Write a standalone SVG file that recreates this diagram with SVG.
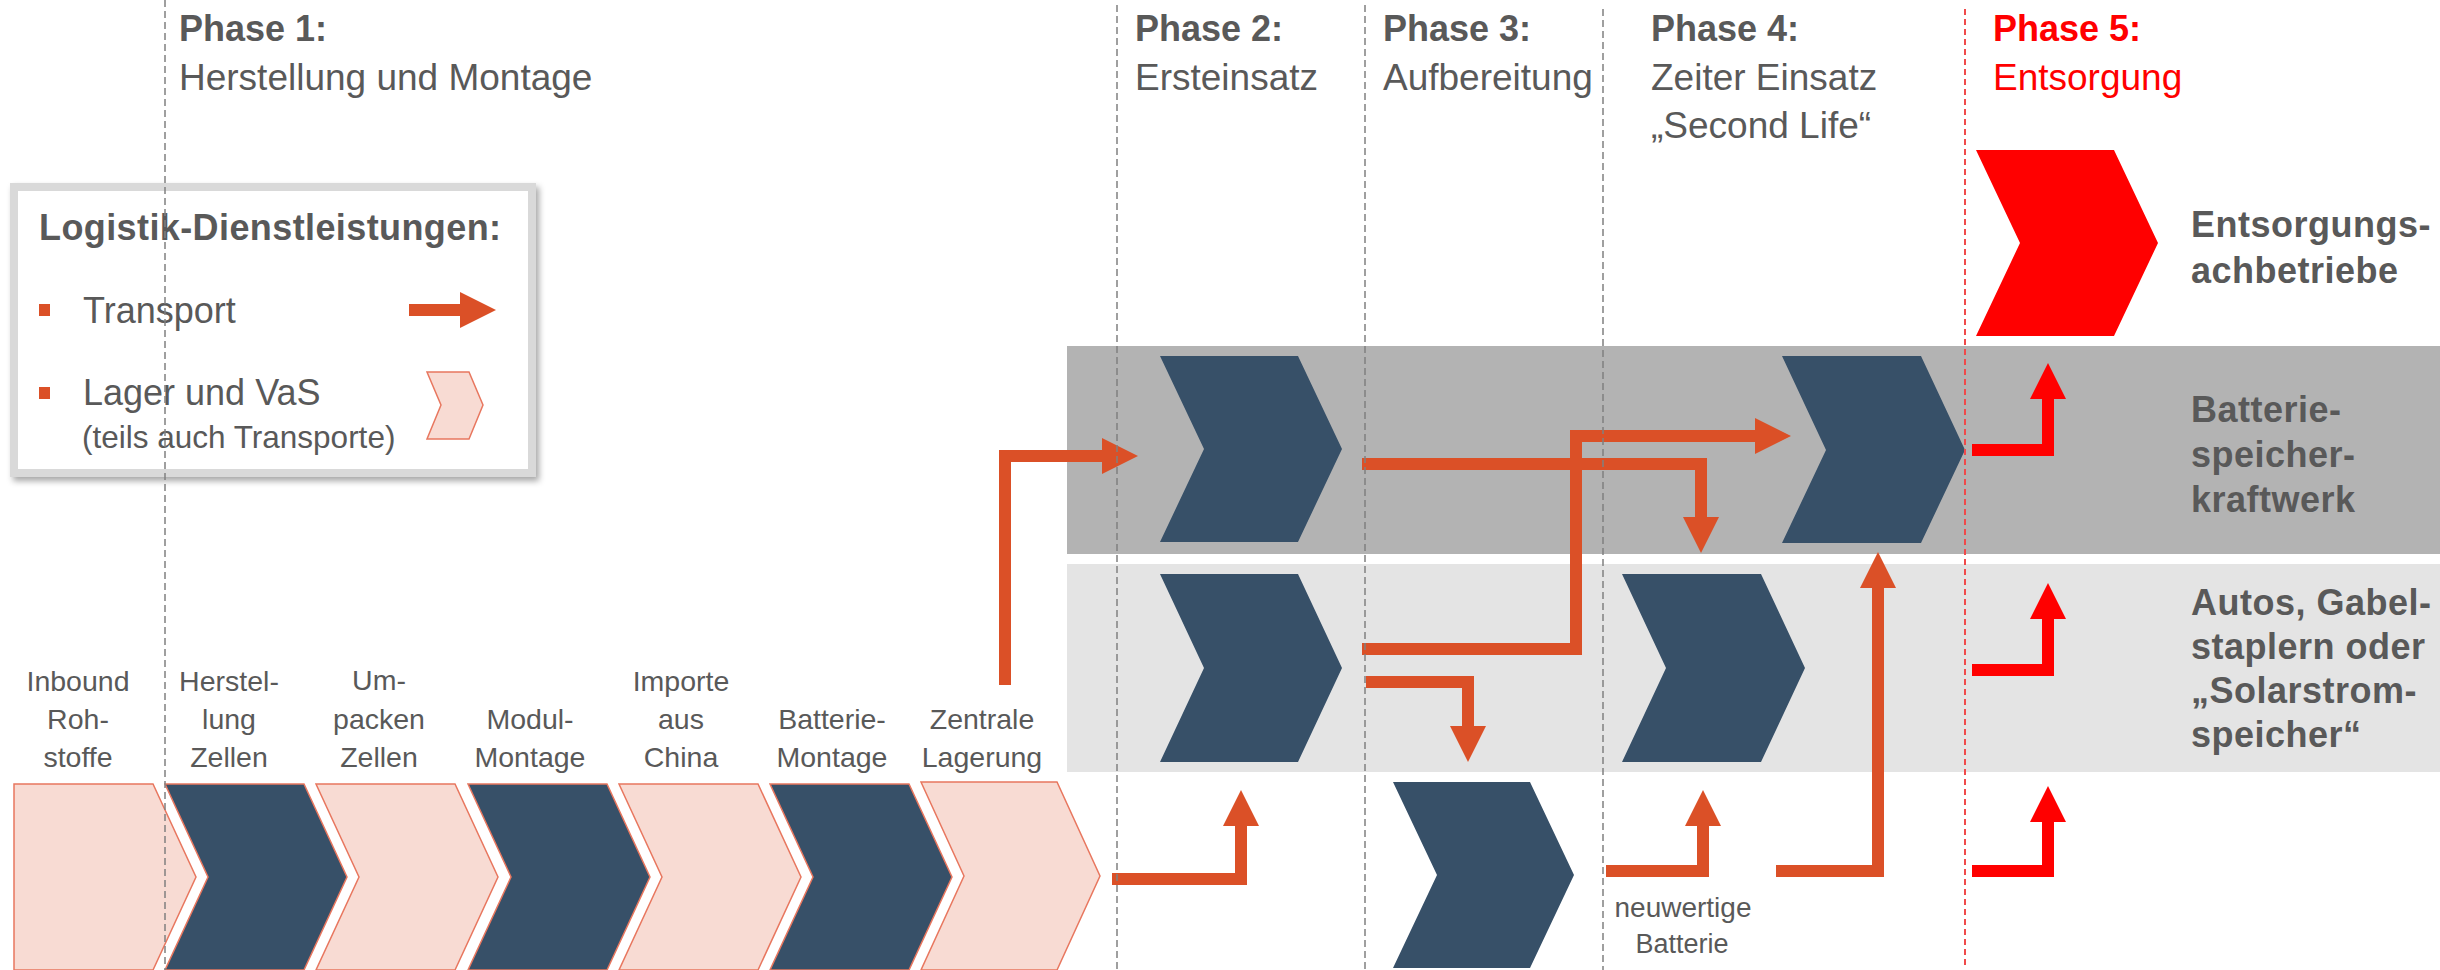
<svg xmlns="http://www.w3.org/2000/svg" width="2440" height="970" viewBox="0 0 2440 970">
<defs>
<style>
.t{font-family:"Liberation Sans",Arial,sans-serif;fill:#595959}
.b{font-weight:bold}
.h{font-size:36px}
.hr{font-size:37px}
.lbl{font-size:28.5px;text-anchor:middle}
.side{font-size:36px;font-weight:bold;letter-spacing:0.5px}
.red{fill:#ff0000}
.pink{fill:#f8dbd3;stroke:#e8775f;stroke-width:1.5}
.dark{fill:#375068}
.dk2{fill:#375068;stroke:#e8775f;stroke-width:1.5}
.ph{stroke:#808080;stroke-width:1.5;stroke-dasharray:7,4;fill:none}
.phr{stroke:#f04a4a;stroke-width:2;stroke-dasharray:6,4;fill:none}
.arr{fill:none;stroke:#db5027;stroke-width:12;stroke-linejoin:miter;marker-end:url(#ho)}
.arrR{fill:none;stroke:#ff0000;stroke-width:12;stroke-linejoin:miter;marker-end:url(#hr)}
</style>
<marker id="ho" markerUnits="userSpaceOnUse" markerWidth="36" markerHeight="36" viewBox="0 0 36 36" refX="0" refY="18" orient="auto"><path d="M0,0 L36,18 L0,36 Z" fill="#db5027"/></marker>
<marker id="hr" markerUnits="userSpaceOnUse" markerWidth="36" markerHeight="36" viewBox="0 0 36 36" refX="0" refY="18" orient="auto"><path d="M0,0 L36,18 L0,36 Z" fill="#ff0000"/></marker>
<filter id="sh" x="-5%" y="-5%" width="115%" height="115%"><feDropShadow dx="3" dy="4" stdDeviation="3" flood-color="#000" flood-opacity="0.35"/></filter>
</defs>
<rect width="2440" height="970" fill="#fff"/>

<g id="bands">
<rect x="1067" y="346" width="1373" height="208" fill="#b3b3b3"/>
<rect x="1067" y="564" width="1373" height="208" fill="#e4e4e4"/>
</g>

<g id="headers">
<text class="t b h" x="179" y="41">Phase 1:</text>
<text class="t hr" x="179" y="90">Herstellung und Montage</text>
<text class="t b h" x="1135" y="41">Phase 2:</text>
<text class="t hr" x="1135" y="90">Ersteinsatz</text>
<text class="t b h" x="1383" y="41">Phase 3:</text>
<text class="t hr" x="1383" y="90">Aufbereitung</text>
<text class="t b h" x="1651" y="41">Phase 4:</text>
<text class="t hr" x="1651" y="90">Zeiter Einsatz</text>
<text class="t hr" x="1651" y="138">„Second Life“</text>
<text class="t b h red" x="1993" y="41">Phase 5:</text>
<text class="t hr red" x="1993" y="90">Entsorgung</text>
</g>

<g id="legend">
<rect x="14" y="187" width="518" height="286" fill="#fff" stroke="#d9d9d9" stroke-width="8" filter="url(#sh)"/>
<text class="t b h" x="39" y="240" style="letter-spacing:0.4px">Logistik-Dienstleistungen:</text>
<rect x="39" y="304" width="11" height="12" fill="#db5027"/>
<text class="t h" x="83" y="323">Transport</text>
<path d="M409,310 H460" class="arr"/>
<rect x="39" y="387" width="11" height="12" fill="#db5027"/>
<text class="t h" x="83" y="405">Lager und VaS</text>
<text class="t" x="82" y="448" style="font-size:31.5px">(teils auch Transporte)</text>
<path d="M427,372 L469,372 L483,405 L469,439 L427,439 L441,405 Z" class="pink"/>
</g>

<g id="n-inbound">
<path d="M14,784 L153,784 L196,877 L153,970 L14,970 Z" class="pink"/>
<text class="t lbl" x="78" y="691">Inbound</text><text class="t lbl" x="78" y="729">Roh-</text><text class="t lbl" x="78" y="767">stoffe</text>
</g>
<g id="n-herstellung">
<path d="M165,784 L304,784 L347,877 L304,970 L165,970 L208,877 Z" class="dk2"/>
<text class="t lbl" x="229" y="691">Herstel-</text><text class="t lbl" x="229" y="729">lung</text><text class="t lbl" x="229" y="767">Zellen</text>
</g>
<g id="n-umpacken">
<path d="M316,784 L455,784 L498,877 L455,970 L316,970 L359,877 Z" class="pink"/>
<text class="t lbl" x="379" y="690">Um-</text><text class="t lbl" x="379" y="729">packen</text><text class="t lbl" x="379" y="767">Zellen</text>
</g>
<g id="n-modul">
<path d="M468,784 L607,784 L650,877 L607,970 L468,970 L511,877 Z" class="dk2"/>
<text class="t lbl" x="530" y="729">Modul-</text><text class="t lbl" x="530" y="767">Montage</text>
</g>
<g id="n-importe">
<path d="M619,784 L758,784 L801,877 L758,970 L619,970 L662,877 Z" class="pink"/>
<text class="t lbl" x="681" y="691">Importe</text><text class="t lbl" x="681" y="729">aus</text><text class="t lbl" x="681" y="767">China</text>
</g>
<g id="n-batterie">
<path d="M770,784 L909,784 L952,877 L909,970 L770,970 L813,877 Z" class="dk2"/>
<text class="t lbl" x="832" y="729">Batterie-</text><text class="t lbl" x="832" y="767">Montage</text>
</g>
<g id="n-zentrale">
<path d="M921,782 L1057,782 L1100,876 L1057,970 L921,970 L964,876 Z" class="pink"/>
<text class="t lbl" x="982" y="729">Zentrale</text><text class="t lbl" x="982" y="767">Lagerung</text>
</g>

<g id="n-p2-kraftwerk"><path d="M1160,356 L1298,356 L1342,449 L1298,542 L1160,542 L1204,449 Z" class="dark"/></g>
<g id="n-p2-mobil"><path d="M1160,574 L1298,574 L1342,668 L1298,762 L1160,762 L1204,668 Z" class="dark"/></g>
<g id="n-p3-aufbereitung"><path d="M1393,782 L1530,782 L1574,875 L1530,968 L1393,968 L1437,875 Z" class="dark"/></g>
<g id="n-p4-mobil"><path d="M1622,574 L1761,574 L1805,668 L1761,762 L1622,762 L1666,668 Z" class="dark"/></g>
<g id="n-p4-kraftwerk"><path d="M1782,356 L1921,356 L1965,450 L1921,543 L1782,543 L1826,450 Z" class="dark"/></g>
<g id="n-p5-entsorgung"><path d="M1976,150 L2114,150 L2158,243 L2114,336 L1976,336 L2020,243 Z" fill="#ff0000"/></g>

<g id="row-labels">
<text class="t side" x="2191" y="237">Entsorgungs-</text>
<text class="t side" x="2191" y="283">achbetriebe</text>
<text class="t side" x="2191" y="422">Batterie-</text>
<text class="t side" x="2191" y="467">speicher-</text>
<text class="t side" x="2191" y="512">kraftwerk</text>
<text class="t side" x="2191" y="615">Autos, Gabel-</text>
<text class="t side" x="2191" y="659">staplern oder</text>
<text class="t side" x="2191" y="703">„Solarstrom-</text>
<text class="t side" x="2191" y="747">speicher“</text>
<text class="t" x="1683" y="917" style="font-size:28px;text-anchor:middle">neuwertige</text>
<text class="t" x="1682" y="953" style="font-size:27px;text-anchor:middle">Batterie</text>
</g>

<g id="connectors">
<path d="M1005,685 V456 H1102" class="arr"/>
<path d="M1362,464 H1701 V517" class="arr"/>
<path d="M1362,649 H1576 V436 H1755" class="arr"/>
<path d="M1366,682 H1468 V726" class="arr"/>
<path d="M1112,879 H1241 V826" class="arr"/>
<path d="M1606,871 H1703 V826" class="arr"/>
<path d="M1776,871 H1878 V588" class="arr"/>
<path d="M1972,450 H2048 V399" class="arrR"/>
<path d="M1972,670 H2048 V619" class="arrR"/>
<path d="M1972,871 H2048 V822" class="arrR"/>
</g>

<g id="phase-lines">
<path d="M165,0 V970" class="ph"/>
<path d="M1117,5 V970" class="ph"/>
<path d="M1365,5 V970" class="ph"/>
<path d="M1603,9 V970" class="ph"/>
<path d="M1965,9 V965" class="phr"/>
</g>
</svg>
